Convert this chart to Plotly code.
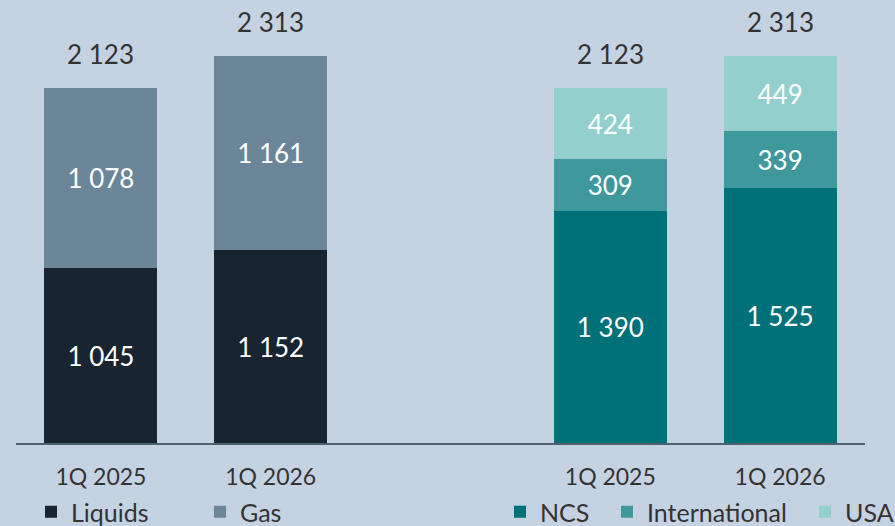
import plotly.graph_objects as go

# Kategorien (linke Gruppe: Produkt, rechte Gruppe: Region)
quarters = ["1Q 2025", "1Q 2026"]
x_left = [0, 1]
x_right = [3, 4]

liquids = [1045, 1152]
gas = [1078, 1161]

ncs = [1390, 1525]
international = [309, 339]
usa = [424, 449]

tick_pos = x_left + x_right
tick_text = quarters + quarters

FONT = "Lato"
TXT = "#333333"
BG = "#c5d2e1"

fig = go.Figure()


def add_bar(x, y, name, color, legend):
    fig.add_trace(go.Bar(
        x=x, y=y, name=name, marker_color=color, marker_line_width=0,
        width=0.665, texttemplate="%{y:,}", textposition="inside",
        insidetextanchor="middle", textangle=0,
        insidetextfont=dict(color="white", size=26, family=FONT),
        legend=legend, hoverinfo="skip",
    ))


add_bar(x_left, liquids, "Liquids", "#18242f", "legend")
add_bar(x_left, gas, "Gas", "#6b8699", "legend2")
add_bar(x_right, ncs, "NCS", "#007079", "legend3")
add_bar(x_right, international, "International", "#3f999c", "legend4")
add_bar(x_right, usa, "USA", "#93cfcd", "legend5")

# Summen ueber den Balken
tot_left = [a + b for a, b in zip(liquids, gas)]
tot_right = [a + b + c for a, b, c in zip(ncs, international, usa)]
for xv, tot in zip(x_left + x_right, tot_left + tot_right):
    fig.add_annotation(
        x=xv, y=tot, text=f"{tot:,}".replace(",", " "), showarrow=False,
        yanchor="bottom", yshift=16,
        font=dict(size=26, color=TXT, family=FONT),
    )

# Legenden einzeln platzieren (Pixel links vom Symbol)
leg_x = {"legend": 31, "legend2": 200, "legend3": 500, "legend4": 607, "legend5": 805}
legends = {}
for key, px_left in leg_x.items():
    legends[key] = dict(
        xref="container", yref="container",
        x=px_left / 895, y=(526 - 512) / 526, xanchor="left", yanchor="middle",
        orientation="h", bgcolor="rgba(0,0,0,0)",
        font=dict(size=25, color=TXT, family=FONT), itemwidth=30,
    )

fig.update_layout(
    barmode="stack",
    showlegend=True,
    width=895, height=526,
    margin=dict(l=16, r=30, t=0, b=83),
    paper_bgcolor=BG,
    plot_bgcolor="rgba(0,0,0,0)",
    separators=". ",
    font=dict(family=FONT, color=TXT),
    xaxis=dict(
        range=[-0.5, 4.5], tickvals=tick_pos, ticktext=tick_text,
        showgrid=False, zeroline=False, showline=True,
        linecolor="#4f6070", linewidth=2, ticks="",
        ticklabelstandoff=12,
        tickfont=dict(size=23, color=TXT, family=FONT),
    ),
    yaxis=dict(range=[0, 2650], visible=False),
    **legends,
)

fig.write_html(
    "out.html",
    config={"displayModeBar": False},
    post_script=f"document.body.style.margin='0';document.body.style.background='{BG}';",
)
